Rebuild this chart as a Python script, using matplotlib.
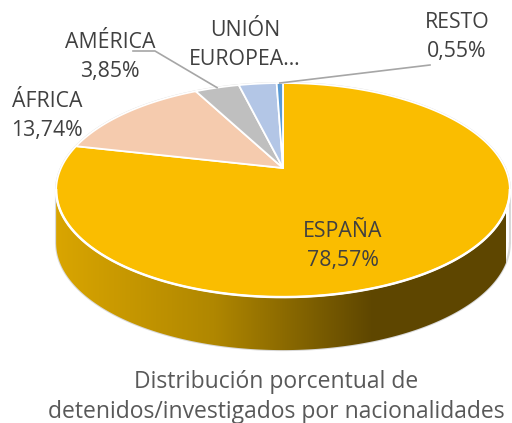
import numpy as np
import matplotlib
matplotlib.use("Agg")
import matplotlib.pyplot as plt
from matplotlib.patches import Polygon
from matplotlib.colors import LinearSegmentedColormap

# Datos del grafico
categorias = ['ESPAÑA', 'ÁFRICA', 'AMÉRICA', 'UNIÓN EUROPEA', 'RESTO']
porcentajes = [78.57, 13.74, 3.85, 3.29, 0.55]
etiquetas = ['ESPAÑA\n78,57%', 'ÁFRICA\n13,74%', 'AMÉRICA\n3,85%',
             'UNIÓN\nEUROPEA…', 'RESTO\n0,55%']
colores = ['#FABD00', '#F5CBAE', '#BFBFBF', '#B3C6E6', '#5B9BD5']
titulo = 'Distribución porcentual de\ndetenidos/investigados por nacionalidades'

plt.rcParams['font.family'] = ['Open Sans', 'DejaVu Sans']

# Geometria de la torta 3D (pixeles)
cx, cy = 283, 168
rx, ry = 222, 102.5
k = 0.206          # perspectiva
grosor = 53


def proyectar(theta_deg):
    t = np.radians(theta_deg)
    u, v = np.cos(t), np.sin(t)
    s = 1.0 / (1.0 + k * v)
    return cx + rx * u * s, cy - ry * v * s


fig = plt.figure(figsize=(5.12, 4.23), dpi=100)
ax = fig.add_axes([0, 0, 1, 1])

# Contorno completo
th = np.linspace(0, 360, 1441)
px, py = proyectar(th)
i_izq, i_der = np.argmin(px), np.argmax(px)
frente = np.linspace(th[i_izq], th[i_der], 400)
fx, fy = proyectar(frente)
lado = np.column_stack([np.r_[fx, fx[::-1]], np.r_[fy + grosor, fy[::-1]]])

# Lateral con degradado
cmap = LinearSegmentedColormap.from_list(
    'lado', [(0, '#D9A500'), (0.35, '#B08700'), (0.7, '#5F4700'), (1, '#5E4600')])
grad = np.linspace(0, 1, 256).reshape(1, -1)
img = ax.imshow(grad, cmap=cmap, extent=(fx.min(), fx.min() + 450, fy.max() + grosor + 5, 150),
                aspect='auto', interpolation='bilinear', zorder=1)
clip = Polygon(lado, closed=True, transform=ax.transData, facecolor='none', edgecolor='none')
ax.add_patch(clip)
img.set_clip_path(clip)

# Borde gris suave
ax.plot(fx, fy + grosor, color='#D9D9D9', lw=1.5, zorder=0.5)
ax.plot(px, py, color='#D9D9D9', lw=1.5, zorder=0.5)
ax.plot([fx[0], fx[0]], [fy[0], fy[0] + grosor], color='#D9D9D9', lw=1.5, zorder=0.5)
ax.plot([fx[-1], fx[-1]], [fy[-1], fy[-1] + grosor], color='#D9D9D9', lw=1.5, zorder=0.5)

# Cara superior: porciones en sentido horario desde las 12
acum = np.cumsum([0] + porcentajes)
medios = []
for i, p in enumerate(porcentajes):
    a0 = 90 - acum[i] * 3.6
    a1 = 90 - acum[i + 1] * 3.6
    arco = np.linspace(a0, a1, 300)
    ax_, ay_ = proyectar(arco)
    pts = np.column_stack([np.r_[cx, ax_], np.r_[cy, ay_]])
    ax.add_patch(Polygon(pts, closed=True, facecolor=colores[i], edgecolor='white',
                         lw=1.3, joinstyle='round', zorder=3))
    medios.append((a0 + a1) / 2)

# Borde blanco frontal
ax.plot(fx, fy, color='white', lw=1.8, zorder=4)

# Etiquetas
col_txt = '#404040'
pos_etq = [(343, 246), (47, 116), (110, 57), (245, 45), (457, 37)]
for i, (x, y) in enumerate(pos_etq):
    ax.text(x, y, etiquetas[i], ha='center', va='center', fontsize=15.3,
            color=col_txt, linespacing=1.5, zorder=5)

# Lineas guia
gx, gy = proyectar(medios[2])
ax.plot([133, 155, gx], [51, 51, gy], color='#A6A6A6', lw=1.2, zorder=5)
gx, gy = proyectar(medios[4])
ax.plot([430, gx], [65, gy], color='#A6A6A6', lw=1.2, zorder=5)

# Titulo
ax.text(276, 397, titulo, ha='center', va='center', fontsize=16.5,
        color='#595959', linespacing=1.3)

ax.set_xlim(0, 512)
ax.set_ylim(423, 0)
ax.axis('off')
fig.savefig('out.png', dpi=100)
